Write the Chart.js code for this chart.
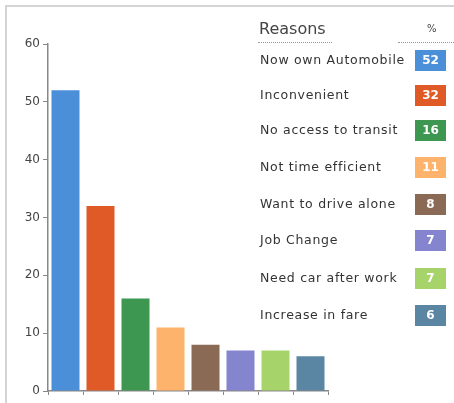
<!DOCTYPE html>
<html>
<head>
<meta charset="utf-8">
<script src="https://cdn.jsdelivr.net/npm/chart.js@4"></script>
<style>
  html, body { margin: 0; padding: 0; background: #fff; }
  #wrap { position: relative; width: 454px; height: 403px; overflow: hidden; }
  #frame { position: absolute; left: 5px; top: 5px; width: 470px; height: 420px; border: 2px solid #d4d4d4; box-sizing: border-box; }
  #chart { position: absolute; left: 0; top: 0; }
  .legend { position: absolute; font-family: "DejaVu Sans", sans-serif; color: #333; }
  .head { position: absolute; font-size: 16px; color: #444; }
  .rule { position: absolute; height: 0; border-top: 1px dotted #999; }
  .row { position: absolute; left: 260px; font-size: 12.5px; letter-spacing: 0.7px; white-space: nowrap; }
  .box { position: absolute; left: 415px; width: 31px; height: 21px; color: #fff; font-weight: bold; font-size: 12px; text-align: center; line-height: 21px; }
</style>
</head>
<body>
<div id="wrap">
  <div id="frame"></div>
  <canvas id="chart" width="454" height="403"></canvas>
  <div id="legend" class="legend"></div>
</div>
<script>
const reasons = ['Now own Automobile', 'Inconvenient', 'No access to transit', 'Not time efficient',
  'Want to drive alone', 'Job Change', 'Need car after work', 'Increase in fare'];
const percents = [52, 32, 16, 11, 8, 7, 7, 6];
const colors = ['#4a8fd8', '#df5a26', '#3e9751', '#fdb36b', '#8a6a55', '#8584cf', '#a7d36b', '#5a86a3'];
const yTicks = [0, 10, 20, 30, 40, 50, 60];

// legend table on the right
const legend = document.getElementById('legend');
let html = '<div class="head" style="left:259px;top:19px">Reasons</div>' +
  '<div class="rule" style="left:258px;top:42px;width:74px"></div>' +
  '<div class="head" style="left:427px;top:23px;font-size:10px">%</div>' +
  '<div class="rule" style="left:398px;top:42px;width:60px"></div>';
const rowY = [60, 95, 130, 167, 204, 240, 278, 315];
reasons.forEach(function (r, i) {
  html += '<div class="row" style="top:' + (rowY[i] - 8) + 'px">' + r + '</div>';
  html += '<div class="box" style="top:' + (rowY[i] - 10) + 'px;background:' + colors[i] + '">' + percents[i] + '</div>';
});
legend.innerHTML = html;

const ctx = document.getElementById('chart').getContext('2d');
new Chart(ctx, {
  type: 'bar',
  data: {
    labels: reasons,
    datasets: [{
      data: percents,
      backgroundColor: colors,
      borderWidth: 0,
      barPercentage: 0.8,
      categoryPercentage: 1,
    }],
  },
  options: {
    animation: false,
    responsive: false,
    layout: { padding: { left: 0, right: 126, top: 44, bottom: 0 } },
    plugins: { legend: { display: false }, tooltip: { enabled: false } },
    scales: {
      x: {
        grid: { display: true, drawOnChartArea: false, offset: true, tickLength: 4, color: '#888' },
        border: { color: '#888', width: 1.5 },
        ticks: { display: false },
        afterFit: function (scale) { scale.height = 12; },
      },
      y: {
        min: 0,
        max: 60,
        afterBuildTicks: function (scale) { scale.ticks = yTicks.map(function (v) { return { value: v }; }); },
        grid: { display: true, drawOnChartArea: false, tickLength: 5, color: '#888' },
        border: { color: '#888', width: 1.5 },
        ticks: { color: '#444', font: { family: 'DejaVu Sans', size: 12 }, padding: 3 },
        afterFit: function (scale) { scale.width = 48; },
      },
    },
  },
});
</script>
</body>
</html>
